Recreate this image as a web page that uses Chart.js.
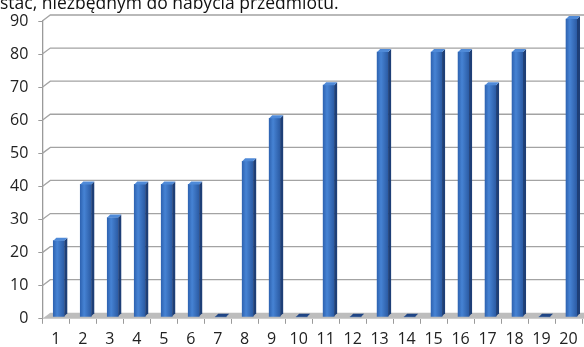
<!DOCTYPE html>
<html>
<head>
<meta charset="utf-8">
<script src="https://cdn.jsdelivr.net/npm/chart.js@4/dist/chart.umd.min.js"></script>
<style>
  body { margin: 0; background: #fff; }
  #wrap { position: relative; width: 584px; height: 347px; overflow: hidden; }
  #tytul { position: absolute; left: 0; top: -10px; font-family: "Open Sans", sans-serif; font-size: 17.5px; color: #111; white-space: nowrap; }
  canvas { position: absolute; left: 0; top: 0; }
</style>
</head>
<body>
<div id="wrap">
  <canvas id="wykres" width="584" height="347"></canvas>
  <div id="tytul">stać, niezbędnym do nabycia przedmiotu.</div>
</div>
<script>
// dane
const kategorie = ['1','2','3','4','5','6','7','8','9','10','11','12','13','14','15','16','17','18','19','20'];
const wartosci = [23, 40, 30, 40, 40, 40, 0, 47, 60, 0, 70, 0, 80, 0, 80, 80, 70, 80, 0, 90];

// glebokosc "3D"
const glebX = 8, glebY = 6;
const bokX = 3, bokY = 3;
const przesX = 3, przesY = -2;

const efekt3d = {
  id: 'efekt3d',
  beforeDatasetsDraw(chart) {
    const ctx = chart.ctx;
    const a = chart.chartArea;
    const y = chart.scales.y;
    ctx.save();
    // podloga
    ctx.fillStyle = '#bdbdbd';
    ctx.beginPath();
    ctx.moveTo(a.left, a.bottom);
    ctx.lineTo(a.right + 6, a.bottom);
    ctx.lineTo(a.right + 6 + glebX, a.bottom - glebY);
    ctx.lineTo(a.left + glebX, a.bottom - glebY);
    ctx.closePath();
    ctx.fill();
    // linie siatki
    ctx.strokeStyle = '#a3a3a3';
    ctx.lineWidth = 1.3;
    y.ticks.forEach(t => {
      if (t.value === 0) return;
      const py = y.getPixelForValue(t.value);
      ctx.beginPath();
      ctx.moveTo(a.left, py);
      ctx.lineTo(a.left + glebX, py - glebY);
      ctx.lineTo(chart.width, py - glebY);
      ctx.stroke();
    });
    ctx.restore();
    ctx.save();
    ctx.translate(przesX, przesY);
  },
  afterDatasetsDraw(chart) {
    const ctx = chart.ctx;
    const meta = chart.getDatasetMeta(0);
    meta.data.forEach((bar, i) => {
      const p = bar.getProps(['x', 'y', 'base', 'width'], true);
      const l = p.x - p.width / 2, r = p.x + p.width / 2;
      // bok
      ctx.fillStyle = '#1e3f77';
      ctx.beginPath();
      ctx.moveTo(r, p.y);
      ctx.lineTo(r + bokX, p.y - bokY);
      ctx.lineTo(r + bokX, p.base - bokY);
      ctx.lineTo(r, p.base);
      ctx.closePath();
      ctx.fill();
      // gora
      ctx.fillStyle = wartosci[i] === 0 ? '#1f4585' : '#4f8ad8';
      ctx.beginPath();
      ctx.moveTo(l, p.y);
      ctx.lineTo(l + bokX, p.y - bokY);
      ctx.lineTo(r + bokX, p.y - bokY);
      ctx.lineTo(r, p.y);
      ctx.closePath();
      ctx.fill();
    });
    ctx.restore();
  }
};

function kolorSlupka(context) {
  const chart = context.chart;
  const x = chart.scales.x;
  if (!chart.chartArea || !x) return '#3a74c8';
  const px = x.getPixelForValue(context.dataIndex);
  const g = chart.ctx.createLinearGradient(px - 5.5, 0, px + 5.5, 0);
  g.addColorStop(0, '#2f64b2');
  g.addColorStop(0.35, '#4683d4');
  g.addColorStop(1, '#2b5ba4');
  return g;
}

new Chart(document.getElementById('wykres'), {
  type: 'bar',
  data: {
    labels: kategorie,
    datasets: [{
      data: wartosci,
      backgroundColor: kolorSlupka,
      borderWidth: 0,
      barThickness: 11,
      clip: false
    }]
  },
  options: {
    responsive: false,
    animation: false,
    layout: { padding: { top: 21, right: 2, bottom: -8, left: 0 } },
    plugins: { legend: { display: false }, tooltip: { enabled: false } },
    scales: {
      x: {
        grid: { drawOnChartArea: false, drawTicks: true, tickLength: 5, color: '#9a9a9a', offset: true },
        border: { display: false },
        ticks: { color: '#222', padding: 6, font: { family: 'Open Sans', size: 16 }, maxRotation: 0, autoSkip: false }
      },
      y: {
        min: 0, max: 90,
        grid: { drawOnChartArea: false, drawTicks: true, tickLength: 4, color: '#9a9a9a' },
        border: { display: true, color: '#9a9a9a', width: 1.3 },
        ticks: { stepSize: 10, color: '#222', padding: 10, font: { family: 'Open Sans', size: 16 } }
      }
    }
  },
  plugins: [efekt3d]
});
</script>
</body>
</html>
